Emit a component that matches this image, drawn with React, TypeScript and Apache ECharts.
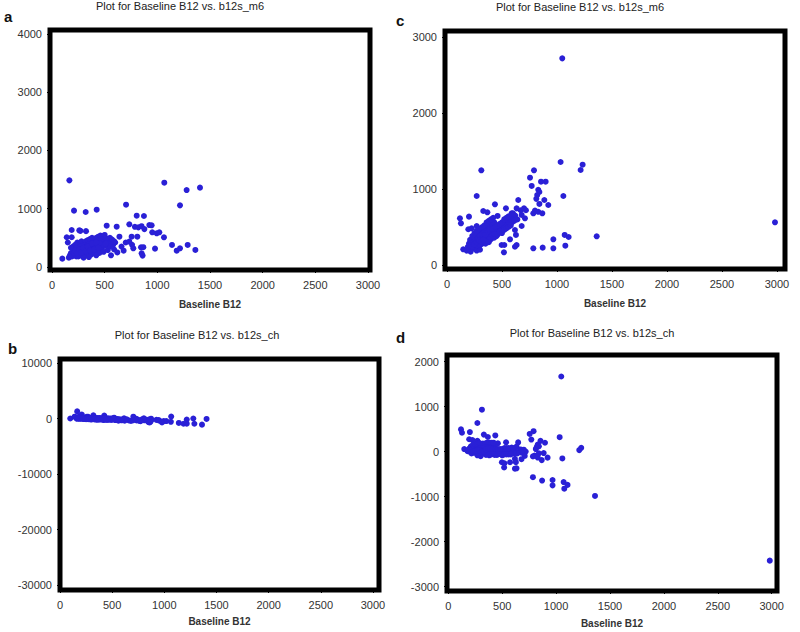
import React, { useEffect, useRef } from "react";
import * as echarts from "echarts";

const titleM6 = "Plot for Baseline B12 vs. b12s_m6";
const titleCh = "Plot for Baseline B12 vs. b12s_ch";
const xAxisName = "Baseline B12";
const panelLetters = ["a", "b", "c", "d"];

const xTicks = [0, 500, 1000, 1500, 2000, 2500, 3000];
const yTicksA = [0, 1000, 2000, 3000, 4000];
const yTicksB = [-30000, -20000, -10000, 0, 10000];
const yTicksC = [0, 1000, 2000, 3000];
const yTicksD = [-3000, -2000, -1000, 0, 1000, 2000];

// Panel a: Baseline B12 vs b12s_m6
const panelAData: number[][] = [
  [165, 1487], [1066, 1447], [1278, 1321], [1405, 1362], [703, 1070], [1215, 1058], [209, 967], [320, 944],
  [424, 984], [804, 881], [873, 875], [734, 732], [787, 690], [820, 680], [850, 700], [877, 650], [924, 720],
  [946, 715], [952, 595], [994, 578], [1019, 595], [1063, 509], [614, 692], [519, 709], [187, 635], [259, 630],
  [323, 615], [270, 620], [756, 520], [810, 520], [734, 435], [760, 380], [772, 320], [845, 337], [867, 340],
  [851, 234], [860, 195], [978, 315], [1139, 378], [1184, 280], [1215, 320], [1288, 378], [1361, 292], [98, 143],
  [140, 510], [187, 510], [150, 420], [600, 420], [640, 520], [660, 350], [590, 300], [620, 250], [560, 200],
  [680, 280], [700, 420],
  [160, 160], [170, 200], [180, 240], [190, 180], [200, 260], [210, 300], [220, 220], [230, 180], [240, 270],
  [250, 320], [260, 240], [270, 200], [280, 290], [290, 350], [300, 260], [310, 220], [320, 310], [330, 380],
  [340, 280], [350, 240], [360, 330], [370, 400], [380, 300], [390, 260], [400, 360], [410, 420], [420, 320],
  [430, 280], [440, 380], [450, 440], [460, 340], [470, 300], [480, 400], [490, 460], [500, 360], [510, 420],
  [520, 480], [530, 380], [540, 440], [550, 500], [560, 420], [570, 470], [580, 380], [590, 440], [240, 420],
  [260, 400], [280, 440], [300, 400], [320, 440], [340, 460], [360, 480], [380, 500], [400, 470], [420, 500],
  [440, 520], [460, 540], [480, 520], [500, 550], [200, 350], [220, 380], [180, 330], [250, 180], [290, 190],
  [330, 200], [370, 210], [410, 230], [450, 240], [490, 260], [530, 290], [350, 170], [300, 160], [420, 200],
  [230, 320], [270, 350], [310, 370], [350, 390], [390, 410], [430, 450], [470, 470], [510, 490], [550, 350],
  [270, 260], [310, 290], [350, 310], [390, 340], [430, 370], [470, 380], [510, 400],
  [210, 240], [230, 260], [250, 280], [270, 300], [290, 310], [310, 330], [330, 340], [350, 350], [370, 360],
  [390, 380], [410, 390], [430, 400], [450, 410], [220, 280], [240, 230], [260, 300], [280, 250], [300, 330],
  [320, 270], [340, 350], [360, 280], [380, 400], [400, 300], [420, 420], [440, 330],
];

// Panel b: Baseline B12 vs b12s_ch
const panelBData: number[][] = [
  [165, 1322], [1066, 381], [1278, 43], [1405, -43], [703, 367], [1215, -157], [209, 758], [320, 624],
  [424, 560], [804, 77], [873, 2], [734, -2], [787, -97], [820, -140], [850, -150], [877, -227], [924, -204],
  [946, -231], [952, -357], [994, -416], [1019, -424], [1063, -554], [614, 78], [519, 190], [187, 448], [259, 371],
  [323, 292], [270, 350], [756, -236], [810, -290], [734, -299], [760, -380], [772, -452], [845, -508], [867, -527],
  [851, -617], [860, -665], [978, -663], [1139, -761], [1184, -904], [1215, -895], [1288, -910], [1361, -1069], [98, 45],
  [140, 370], [187, 323], [150, 270], [600, -180], [640, -120], [660, -310], [590, -290], [620, -370], [560, -360],
  [680, -400], [700, -280],
  [160, 0], [170, 30], [180, 60], [190, -10], [200, 60], [210, 90], [220, 0], [230, -50], [240, 30],
  [250, 70], [260, -20], [270, -70], [280, 10], [290, 60], [300, -40], [310, -90], [320, -10], [330, 50],
  [340, -60], [350, -110], [360, -30], [370, 30], [380, -80], [390, -130], [400, -40], [410, 10], [420, -100],
  [430, -150], [440, -60], [450, -10], [460, -120], [470, -170], [480, -80], [490, -30], [500, -140], [510, -90],
  [520, -40], [530, -150], [540, -100], [550, -50], [560, -140], [570, -100], [580, -200], [590, -150], [240, 180],
  [260, 140], [280, 160], [300, 100], [320, 120], [340, 120], [360, 120], [380, 120], [400, 70], [420, 80],
  [440, 80], [460, 80], [480, 40], [500, 50], [200, 150], [220, 160], [180, 150], [250, -70], [290, -100],
  [330, -130], [370, -160], [410, -180], [450, -210], [490, -230], [530, -240], [350, -180], [300, -140], [420, -220],
  [230, 90], [270, 80], [310, 60], [350, 40], [390, 20], [430, 20], [470, 0], [510, -20], [550, -200],
  [270, -10], [310, -20], [350, -40], [390, -50], [430, -60], [470, -90], [510, -110],
  [210, 30], [230, 30], [250, 30], [270, 30], [290, 20], [310, 20], [330, 10], [350, 0], [370, -10],
  [390, -10], [410, -20], [430, -30], [450, -40], [220, 60], [240, -10], [260, 40], [280, -30], [300, 30],
  [320, -50], [340, 10], [360, -80], [380, 20], [400, -100], [420, 0], [440, -110],
];

// Panel c: Baseline B12 vs b12s_m6
const panelCData: number[][] = [
  [1048, 2719], [1033, 1355], [1233, 1320], [1215, 1250], [791, 1246], [312, 1246], [755, 1149], [770, 1040],
  [855, 1096], [897, 1096], [1058, 908], [270, 908], [830, 990], [840, 960], [820, 920], [812, 870], [885, 855],
  [840, 803], [921, 789], [800, 715], [830, 700], [867, 680], [785, 680], [648, 855], [436, 798], [330, 710],
  [367, 693], [460, 645], [536, 745], [633, 745], [670, 720], [700, 745], [718, 720], [679, 658], [709, 614],
  [618, 592], [588, 680], [118, 614], [127, 548], [200, 636], [194, 470], [224, 482], [270, 513], [679, 513],
  [618, 460], [627, 395], [573, 338], [497, 263], [521, 263], [618, 240], [633, 263], [518, 167], [785, 219],
  [870, 228], [967, 219], [967, 338], [1076, 254], [1070, 395], [1106, 368], [1361, 377], [2982, 561],
  [148, 206], [179, 189], [200, 200], [215, 175], [230, 210], [250, 230], [270, 190], [290, 240], [300, 200],
  [240, 260], [260, 280], [280, 300], [300, 260], [320, 280], [340, 310], [360, 330], [310, 350], [330, 380],
  [350, 360], [370, 400], [390, 420], [410, 380], [380, 300], [400, 340], [420, 450], [440, 430], [460, 470],
  [480, 500], [500, 520], [520, 540], [540, 560], [560, 580], [580, 600], [600, 620], [620, 650], [640, 600],
  [510, 470], [530, 500], [470, 420], [450, 380], [430, 360], [490, 450], [550, 520], [570, 540], [590, 560],
  [610, 580], [250, 350], [270, 370], [290, 400], [310, 430], [330, 460], [350, 480], [370, 500], [390, 520],
  [410, 540], [430, 560], [450, 500], [220, 300], [240, 330], [260, 250], [280, 260], [300, 320], [320, 350],
  [340, 400], [360, 420], [380, 450], [400, 480], [280, 420], [300, 460], [320, 500], [340, 520], [360, 560],
  [380, 580], [400, 600], [420, 620], [200, 280], [210, 330], [230, 380], [250, 420], [270, 450], [290, 480],
  [190, 240], [210, 250], [350, 280], [370, 320], [390, 360], [410, 400], [430, 410], [460, 400], [480, 440],
  [500, 560], [520, 600], [540, 620], [560, 640], [600, 680], [500, 420], [520, 460], [540, 480], [560, 500],
  [580, 520],
  [220, 260], [240, 300], [260, 320], [280, 340], [300, 380], [320, 400], [340, 430], [360, 450], [380, 470],
  [230, 240], [250, 270], [270, 300], [290, 320], [310, 310], [330, 330], [350, 400], [370, 440], [390, 460],
  [410, 470], [440, 500], [460, 520], [480, 540],
];

// Panel d: Baseline B12 vs b12s_ch
const panelDData: number[][] = [
  [1048, 1671], [1033, 322], [1233, 87], [1215, 35], [791, 455], [312, 934], [755, 394], [770, 270],
  [855, 241], [897, 199], [1058, -150], [270, 638], [830, 160], [840, 120], [820, 100], [812, 58], [885, -30],
  [840, -37], [921, -132], [800, -85], [830, -130], [867, -187], [785, -105], [648, 207], [436, 362], [330, 380],
  [367, 326], [460, 185], [536, 209], [633, 112], [670, 50], [700, 45], [718, 2], [679, -21], [709, -95],
  [618, -26], [588, 92], [118, 496], [127, 421], [200, 436], [194, 276], [224, 258], [270, 243], [679, -166],
  [618, -158], [627, -232], [573, -235], [497, -234], [521, -258], [618, -378], [633, -370], [518, -351], [785, -566],
  [870, -642], [967, -748], [967, -629], [1076, -822], [1070, -675], [1106, -738], [1361, -984], [2982, -2421],
  [148, 58], [179, 10], [200, 0], [215, -40], [230, -20], [250, -20], [270, -80], [290, -50], [300, -100],
  [240, 20], [260, 20], [280, 20], [300, -40], [320, -40], [340, -30], [360, -30], [310, 40], [330, 50],
  [350, 10], [370, 30], [390, 30], [410, -30], [380, -80], [400, -60], [420, 30], [440, -10], [460, 10],
  [480, 20], [500, 20], [520, 20], [540, 20], [560, 20], [580, 20], [600, 20], [620, 30], [640, -40],
  [510, -40], [530, -30], [470, -50], [450, -70], [430, -70], [490, -40], [550, -30], [570, -30], [590, -30],
  [610, -30], [250, 100], [270, 100], [290, 110], [310, 120], [330, 130], [350, 130], [370, 130], [390, 130],
  [410, 130], [430, 130], [450, 50], [220, 80], [240, 90], [260, -10], [280, -20], [300, 20], [320, 30],
  [340, 60], [360, 60], [380, 70], [400, 80], [280, 140], [300, 160], [320, 180], [340, 180], [360, 200],
  [380, 200], [400, 200], [420, 200], [200, 80], [210, 120], [230, 150], [250, 170], [270, 180], [290, 190],
  [190, 50], [210, 40], [350, -70], [370, -50], [390, -30], [410, -10], [430, -20], [460, -60], [480, -40],
  [500, 60], [520, 80], [540, 80], [560, 80], [600, 80], [500, -80], [520, -60], [540, -60], [560, -60],
  [580, -60],
  [220, 40], [240, 60], [260, 60], [280, 60], [300, 80], [320, 80], [340, 90], [360, 90], [380, 90],
  [230, 10], [250, 20], [270, 30], [290, 30], [310, 0], [330, 0], [350, 50], [370, 70], [390, 70],
  [410, 60], [440, 60], [460, 60], [480, 60],
];

const FONT = "Liberation Sans";
const DOT = "#2a20d6";

export default function App() {
  const ref = useRef<HTMLDivElement>(null);

  useEffect(() => {
    if (!ref.current) return;
    const chart = echarts.init(ref.current, null, { renderer: "svg" });

    const grids = [
      { left: 50, top: 30, width: 320, height: 240 },
      { left: 60, top: 359, width: 319, height: 231 },
      { left: 445, top: 31, width: 340, height: 238 },
      { left: 447, top: 355, width: 330, height: 236 },
    ];
    const xRanges = [
      [-19, 3019],
      [0, 3058],
      [-18, 3073],
      [-12, 3049],
    ];
    const yRanges = [
      [-52, 4069],
      [-30902, 10776],
      [-53, 3079],
      [-3096, 2149],
    ];
    const yTicks = [yTicksA, yTicksB, yTicksC, yTicksD];
    const nameGaps = [29, 26, 29, 27];
    const datas = [panelAData, panelBData, panelCData, panelDData];

    const labelStyle = { fontFamily: FONT, fontSize: 11, color: "#333" };

    const option: any = {
      animation: false,
      backgroundColor: "#fff",
      grid: grids.map((g) => ({
        ...g,
        show: true,
        borderColor: "#000",
        borderWidth: 5,
        backgroundColor: "#fff",
        containLabel: false,
      })),
      xAxis: grids.map((_, i) => ({
        type: "value",
        gridIndex: i,
        position: "bottom",
        min: xRanges[i][0],
        max: xRanges[i][1],
        name: xAxisName,
        nameLocation: "middle",
        nameGap: nameGaps[i],
        nameTextStyle: { fontFamily: FONT, fontSize: 10, fontWeight: "bold", color: "#333" },
        axisLine: { show: false, onZero: false },
        splitLine: { show: false },
        axisTick: { show: true, length: 3, customValues: xTicks, lineStyle: { color: "#000" } },
        axisLabel: { ...labelStyle, margin: 9, customValues: xTicks, formatter: (v: number) => String(v) },
      })),
      yAxis: grids.map((_, i) => ({
        type: "value",
        gridIndex: i,
        position: "left",
        min: yRanges[i][0],
        max: yRanges[i][1],
        axisLine: { show: false, onZero: false },
        splitLine: { show: false },
        axisTick: { show: true, length: 3, customValues: yTicks[i], lineStyle: { color: "#000" } },
        axisLabel: { ...labelStyle, margin: 8, customValues: yTicks[i], formatter: (v: number) => String(v) },
      })),
      series: datas.map((d, i) => ({
        type: "scatter",
        xAxisIndex: i,
        yAxisIndex: i,
        data: d,
        symbol: "circle",
        symbolSize: 6,
        itemStyle: { color: DOT, opacity: 1 },
      })),
      graphic: [
        { type: "text", x: 180, y: 6, style: { text: titleM6, font: `11px "${FONT}"`, fill: "#222", textAlign: "center", textVerticalAlign: "middle" } },
        { type: "text", x: 580, y: 7, style: { text: titleM6, font: `11px "${FONT}"`, fill: "#222", textAlign: "center", textVerticalAlign: "middle" } },
        { type: "text", x: 197, y: 335, style: { text: titleCh, font: `11px "${FONT}"`, fill: "#222", textAlign: "center", textVerticalAlign: "middle" } },
        { type: "text", x: 592, y: 333, style: { text: titleCh, font: `11px "${FONT}"`, fill: "#222", textAlign: "center", textVerticalAlign: "middle" } },
        { type: "text", x: 4, y: 16, style: { text: panelLetters[0], font: `bold 15px "${FONT}"`, fill: "#111", textAlign: "left", textVerticalAlign: "middle" } },
        { type: "text", x: 8, y: 348, style: { text: panelLetters[1], font: `bold 15px "${FONT}"`, fill: "#111", textAlign: "left", textVerticalAlign: "middle" } },
        { type: "text", x: 396, y: 20, style: { text: panelLetters[2], font: `bold 15px "${FONT}"`, fill: "#111", textAlign: "left", textVerticalAlign: "middle" } },
        { type: "text", x: 396, y: 337, style: { text: panelLetters[3], font: `bold 15px "${FONT}"`, fill: "#111", textAlign: "left", textVerticalAlign: "middle" } },
      ],
    };

    chart.setOption(option);
    return () => chart.dispose();
  }, []);

  return (
    <div
      ref={ref}
      style={{ position: "absolute", left: 0, top: 0, width: 800, height: 632, background: "#fff" }}
    />
  );
}
